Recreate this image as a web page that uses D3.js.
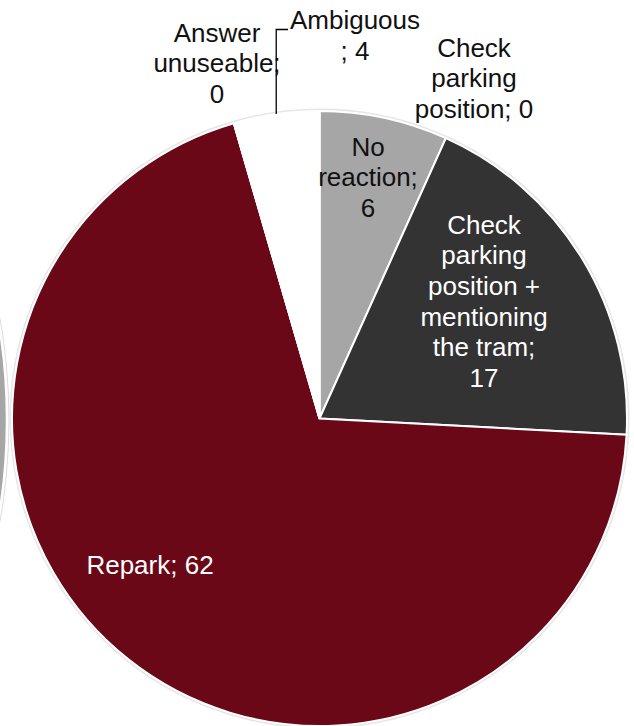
<!DOCTYPE html>
<html>
<head>
<meta charset="utf-8">
<script src="https://cdn.jsdelivr.net/npm/d3@7"></script>
<style>
  html, body { margin: 0; padding: 0; background: #fff; }
  svg { display: block; }
</style>
</head>
<body>
<div id="chart"></div>
<script>
// categories, clockwise from 12 o'clock
const categories = ["No reaction", "Check parking position + mentioning the tram", "Repark", "Answer unuseable", "Ambiguous", "Check parking position"];
const values = [6, 17, 62, 0, 4, 0];
const colors = ["#a6a6a6", "#333333", "#6a0818", "#ffffff", "#ffffff", "#ffffff"];
// label text split in lines as in the picture
const labelLines = [
    ["No", "reaction;", "6"],
    ["Check", "parking", "position +", "mentioning", "the tram;", "17"],
    ["Repark; 62"],
    ["Answer", "unuseable;", "0"],
    ["Ambiguous", "; 4"],
    ["Check", "parking", "position; 0"]
];

const width = 634, height = 726;
const cx = 319.5, cy = 418.5, radius = 307.5;
const lineStep = 30.7;

const svg = d3.select("#chart").append("svg")
    .attr("width", width)
    .attr("height", height)
    .style("font-family", "'Liberation Sans', Arial, sans-serif");

// bout d'un autre camembert coupé à gauche
const R2 = 580;
svg.append("circle")
    .attr("cx", 7 - R2)
    .attr("cy", 420)
    .attr("r", R2)
    .attr("fill", "#a6a6a6")
    .attr("stroke", "#ffffff")
    .attr("stroke-width", 2.5);
svg.append("circle")
    .attr("cx", 7 - R2)
    .attr("cy", 420)
    .attr("r", R2 + 2)
    .attr("fill", "none")
    .attr("stroke", "#dddddd")
    .attr("stroke-width", 1);

const g = svg.append("g")
    .attr("transform", `translate(${cx},${cy})`);

const pie = d3.pie().sort(null).value(d => d);
const arcs = pie(values);

const arc = d3.arc().innerRadius(0).outerRadius(radius);

// léger contour gris autour du disque
g.append("circle")
    .attr("r", radius + 1.5)
    .attr("fill", "none")
    .attr("stroke", "#e6e6e6")
    .attr("stroke-width", 2);

g.selectAll("path.slice")
    .data(arcs)
    .enter().append("path")
    .attr("class", "slice")
    .attr("d", arc)
    .attr("fill", (d, i) => colors[i])
    .attr("stroke", "#ffffff")
    .attr("stroke-width", 2);

// positions des étiquettes (centre du bloc de texte)
const labelPos = [
    [368, 177],
    [484, 301],
    [150, 565],
    [217, 63],
    [355, 35],
    [474, 78]
];
const textColor = ["#111111", "#ffffff", "#ffffff", "#111111", "#111111", "#111111"];

labelLines.forEach((lines, i) => {
    const [lx, ly] = labelPos[i];
    const t = svg.append("text")
        .attr("text-anchor", "middle")
        .style("font-size", "26px")
        .attr("fill", textColor[i]);
    lines.forEach((ln, j) => {
        t.append("tspan")
            .attr("x", lx)
            .attr("y", ly + (j - (lines.length - 1) / 2) * lineStep)
            .attr("dy", "0.36em")
            .text(ln);
    });
});

// ligne de rappel pour "Ambiguous"
const amb = arcs[4];
const mid = (amb.startAngle + amb.endAngle) / 2;
const ex = cx + Math.sin(mid) * radius;
const ey = cy - Math.cos(mid) * radius;
svg.append("path")
    .attr("d", `M${288},${29.5} L${ex},${29.5} L${ex},${ey}`)
    .attr("fill", "none")
    .attr("stroke", "#000000")
    .attr("stroke-width", 1.3);
</script>
</body>
</html>
